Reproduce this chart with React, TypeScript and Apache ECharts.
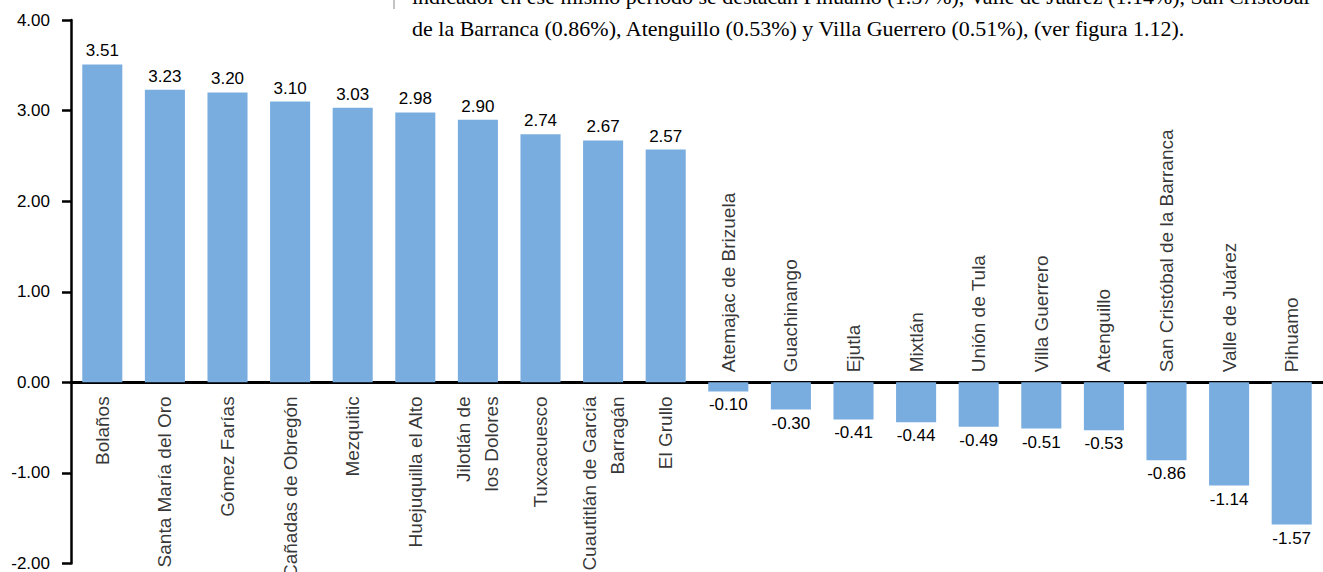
import React, { useEffect, useRef } from "react";
import * as echarts from "echarts";

const categories: string[] = [
  "Bolaños",
  "Santa María del Oro",
  "Gómez Farías",
  "Cañadas de Obregón",
  "Mezquitic",
  "Huejuquilla el Alto",
  "Jilotlán de\nlos Dolores",
  "Tuxcacuesco",
  "Cuautitlán de García\nBarragán",
  "El Grullo",
  "Atemajac de Brizuela",
  "Guachinango",
  "Ejutla",
  "Mixtlán",
  "Unión de Tula",
  "Villa Guerrero",
  "Atenguillo",
  "San Cristóbal de la Barranca",
  "Valle de Juárez",
  "Pihuamo",
];

const values: number[] = [
  3.51, 3.23, 3.2, 3.1, 3.03, 2.98, 2.9, 2.74, 2.67, 2.57,
  -0.1, -0.3, -0.41, -0.44, -0.49, -0.51, -0.53, -0.86, -1.14, -1.57,
];

const yTicks = { min: -2, max: 4, interval: 1 };

const textLine1 =
  "indicador en ese mismo periodo se destacan Pihuamo (1.57%), Valle de Juárez (1.14%), San Cristóbal";
const textLine2 =
  "de la Barranca (0.86%), Atenguillo (0.53%) y Villa Guerrero (0.51%), (ver figura 1.12).";

const FONT = "'Liberation Sans', Arial, Helvetica, sans-serif";
const SERIF = "'Liberation Serif', 'Times New Roman', serif";

export default function App() {
  const ref = useRef<HTMLDivElement>(null);
  useEffect(() => {
    if (!ref.current) return;
    const chart = echarts.init(ref.current, undefined, { renderer: "svg" });
    chart.setOption({
      animation: false,
      backgroundColor: "#ffffff",
      grid: { left: 71, right: -4, top: 20, bottom: 8, containLabel: false },
      xAxis: {
        type: "category",
        data: categories,
        axisLine: { onZero: true, lineStyle: { color: "#000", width: 3 } },
        axisTick: { show: false },
        axisLabel: { show: false },
        splitLine: { show: false },
      },
      yAxis: {
        type: "value",
        min: yTicks.min,
        max: yTicks.max,
        interval: yTicks.interval,
        axisLine: { show: true, lineStyle: { color: "#000", width: 2.5 } },
        axisTick: { show: true, inside: false, length: 9, lineStyle: { color: "#000", width: 2.5 } },
        axisLabel: {
          formatter: (v: number) => v.toFixed(2),
          color: "#000",
          fontSize: 17,
          fontFamily: FONT,
          margin: 21,
        },
        splitLine: { show: false },
      },
      series: [
        {
          type: "bar",
          data: values.map((v) => ({
            value: v,
            label: { position: v >= 0 ? "top" : "bottom" },
          })),
          barCategoryGap: "36%",
          itemStyle: { color: "#7aaddf" },
          label: {
            show: true,
            formatter: (p: any) => Number(p.value).toFixed(2),
            color: "#000",
            fontSize: 17,
            fontFamily: FONT,
            distance: 5,
          },
          z: 2,
        },
        {
          type: "scatter",
          symbolSize: 0,
          silent: true,
          z: 5,
          data: categories.map((c, i) => {
            const pos = values[i] >= 0;
            return {
              value: [i, 0],
              name: c,
              label: {
                show: true,
                formatter: c,
                position: pos ? "bottom" : "top",
                distance: pos ? 14 : 10,
                rotate: 90,
                align: pos ? "right" : "left",
                verticalAlign: "middle",
                color: "#000",
                fontSize: 19,
                lineHeight: 28,
                fontFamily: FONT,
              },
            };
          }),
        },
      ],
      graphic: [
        {
          type: "line",
          shape: { x1: 394, y1: 0, x2: 394, y2: 9 },
          style: { stroke: "#888", lineWidth: 1 },
          z: 100,
        },
        {
          type: "text",
          left: 412,
          top: -15,
          style: {
            text: textLine1,
            fontFamily: SERIF,
            fontSize: 22,
            fill: "#000",
          },
          z: 100,
        },
        {
          type: "text",
          left: 412,
          top: 17,
          style: {
            text: textLine2,
            fontFamily: SERIF,
            fontSize: 22,
            fill: "#000",
          },
          z: 100,
        },
      ],
    });
    return () => chart.dispose();
  }, []);
  return (
    <div
      ref={ref}
      style={{ position: "absolute", left: 0, top: 0, width: 1323, height: 572 }}
    />
  );
}
